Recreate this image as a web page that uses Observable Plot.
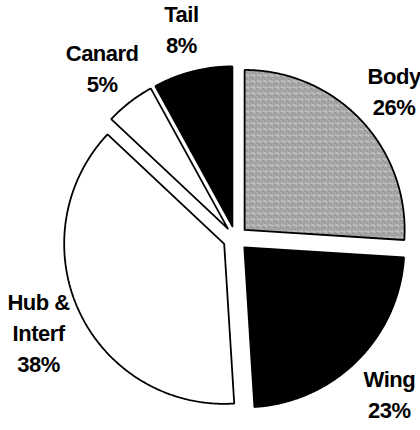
<!DOCTYPE html>
<html>
<head>
<meta charset="utf-8">
<script src="https://cdn.jsdelivr.net/npm/d3@7"></script>
<script src="https://cdn.jsdelivr.net/npm/@observablehq/plot@0.6"></script>
<style>
  html, body { margin: 0; padding: 0; background: #fff; }
  #chart svg text { letter-spacing: -0.5px; }
</style>
</head>
<body>
<div id="chart"></div>
<script>
// ---- data ----
const categories = ["Body", "Wing", "Hub & Interf", "Canard", "Tail"];
const shares = [26, 23, 38, 5, 8];
const labelNames = ["Body", "Wing", "Hub &\nInterf", "Canard", "Tail"];

// ---- styles ----
const sliceFill = {
  "Body": "url(#speckle)",
  "Wing": "black",
  "Hub & Interf": "white",
  "Canard": "white",
  "Tail": "black"
};
const radiusPx = 160;
const explode = 12.5 / radiusPx;
const labelRadius = 1.36;

// ---- geometry from the values ----
const pie = d3.pie().sort(null).value(d => d)(shares);
const slicePts = [];
const labels = [];
pie.forEach((p, i) => {
  const name = categories[i];
  const mid = (p.startAngle + p.endAngle) / 2;
  const ox = explode * Math.sin(mid), oy = explode * Math.cos(mid);
  slicePts.push({name, x: ox, y: oy});
  const n = Math.max(2, Math.ceil((p.endAngle - p.startAngle) / (Math.PI / 360)));
  for (let j = 0; j <= n; j++) {
    const a = p.startAngle + (p.endAngle - p.startAngle) * j / n;
    slicePts.push({name, x: ox + Math.sin(a), y: oy + Math.cos(a)});
  }
  slicePts.push({name, x: ox, y: oy});
  labels.push({
    text: `${labelNames[i]}\n${shares[i]}%`,
    x: labelRadius * Math.sin(mid),
    y: labelRadius * Math.cos(mid)
  });
});

const plot = Plot.plot({
  width: 420,
  height: 430,
  margin: 0,
  x: {domain: [-235 / radiusPx, 185 / radiusPx], axis: null},
  y: {domain: [-192 / radiusPx, 238 / radiusPx], axis: null},
  color: {type: "identity"},
  style: {fontFamily: "'Liberation Sans', Arial, Helvetica, sans-serif", background: "white"},
  marks: [
    Plot.line(slicePts, {
      x: "x", y: "y", z: "name",
      fill: d => sliceFill[d.name],
      stroke: "black", strokeWidth: 1.8, strokeLinejoin: "miter", curve: "linear"
    }),
    Plot.text(labels, {
      x: "x", y: "y", text: "text",
      fontSize: 22, fontWeight: "bold", lineHeight: 1.42, fill: "black"
    })
  ]
});

plot.insertAdjacentHTML("afterbegin", `
<defs>
  <pattern id="speckle" patternUnits="userSpaceOnUse" width="6" height="6">
    <rect width="6" height="6" fill="#b0b0b0"/>
    <rect x="0" y="0" width="1" height="1" fill="#5e5e5e"/>
    <rect x="3" y="1" width="1" height="1" fill="#707070"/>
    <rect x="1" y="3" width="1" height="1" fill="#e4e4e4"/>
    <rect x="4" y="4" width="1" height="1" fill="#5a5a5a"/>
    <rect x="2" y="5" width="1" height="1" fill="#808080"/>
    <rect x="5" y="2" width="1" height="1" fill="#dcdcdc"/>
    <rect x="4" y="0" width="1" height="1" fill="#9a9a9a"/>
    <rect x="0" y="4" width="1" height="1" fill="#8a8a8a"/>
  </pattern>
</defs>`);

document.getElementById("chart").appendChild(plot);
</script>
</body>
</html>
